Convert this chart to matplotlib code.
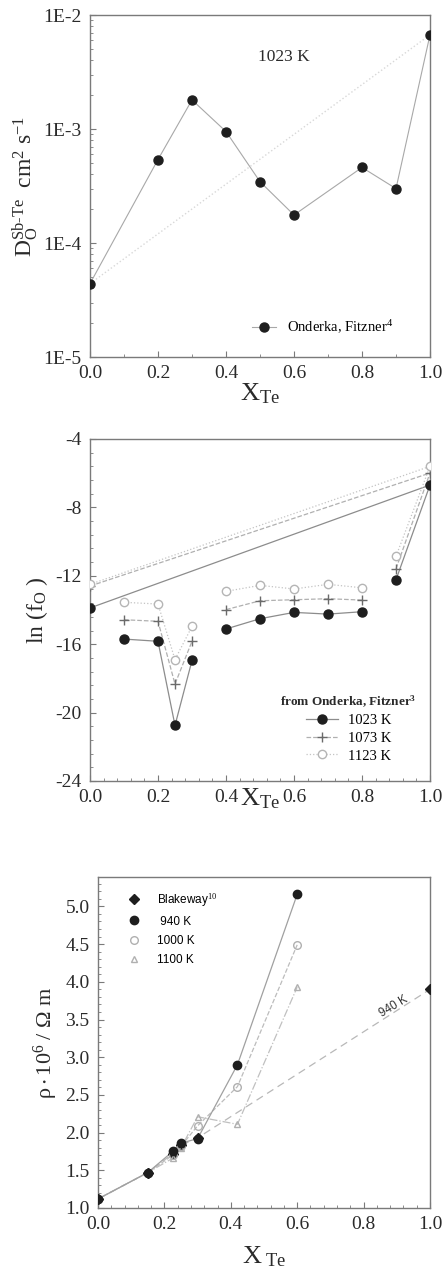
import matplotlib
matplotlib.use("Agg")
import matplotlib.pyplot as plt
from matplotlib.ticker import FixedLocator, MultipleLocator, LogLocator, NullFormatter, FixedFormatter
from matplotlib.lines import Line2D

plt.rcParams['font.family'] = ['Liberation Serif', 'DejaVu Serif']
plt.rcParams['mathtext.fontset'] = 'custom'
plt.rcParams['mathtext.rm'] = 'Liberation Serif'
plt.rcParams['mathtext.it'] = 'Liberation Serif:italic'
plt.rcParams['mathtext.bf'] = 'Liberation Serif:bold'
plt.rcParams['axes.unicode_minus'] = False

# datos panel 1: coeficiente de difusion, 1023 K
x_dif = [0.0, 0.2, 0.3, 0.4, 0.5, 0.6, 0.8, 0.9, 1.0]
d_dif = [4.4e-5, 5.4e-4, 1.8e-3, 9.5e-4, 3.45e-4, 1.76e-4, 4.6e-4, 3.0e-4, 6.7e-3]

# datos panel 2: ln(fO)
x_f = [0.0, 0.1, 0.2, 0.25, 0.3, 0.4, 0.5, 0.6, 0.7, 0.8, 0.9, 1.0]
f_1023 = [-13.88, -15.70, -15.83, -20.75, -16.95, -15.11, -14.51, -14.14, -14.24, -14.10, -12.23, -6.69]
f_1073 = [-12.60, -14.57, -14.66, -18.33, -15.83, -13.98, -13.46, -13.40, -13.34, -13.42, -11.59, -5.99]
f_1123 = [-12.50, -13.55, -13.65, -16.90, -14.96, -12.91, -12.56, -12.77, -12.50, -12.70, -10.86, -5.60]
# tramos unidos con linea
tramos = [(1, 5), (5, 10), (10, 12)]

# datos panel 3: resistividad
x_rho = [0.0, 0.15, 0.225, 0.25, 0.30, 0.42, 0.60]
rho_940 = [1.12, 1.47, 1.75, 1.86, 1.92, 2.90, 5.16]
rho_1000 = [1.12, 1.47, 1.70, 1.82, 2.09, 2.61, 4.49]
rho_1100 = [1.12, 1.47, 1.66, 1.80, 2.21, 2.11, 3.93]
x_blake = [0.0, 0.15, 0.225, 0.25, 0.30, 1.0]
rho_blake = [1.12, 1.47, 1.72, 1.83, 1.93, 3.90]

negro = '#1e1e1e'
gris = '#a8a8a8'
marco = '#7a7a7a'

fig = plt.figure(figsize=(4.45, 12.74), dpi=100)


def estilo(ax):
    for s in ax.spines.values():
        s.set_color(marco)
        s.set_linewidth(1.0)
    ax.tick_params(which='both', direction='in', colors=marco, labelcolor='#2a2a2a',
                   labelsize=14, pad=6)
    ax.tick_params(which='major', length=4)
    ax.tick_params(which='minor', length=2)


# ---------------- panel 1 ----------------
ax1 = fig.add_axes([90/445, 1-357/1274, 340/445, 342/1274])
ax1.plot(x_dif, d_dif, '-', color=gris, lw=0.8)
ax1.plot([x_dif[0], x_dif[-1]], [d_dif[0], d_dif[-1]], ':', color='#d8d8d8', lw=1.0)
ax1.plot(x_dif, d_dif, 'o', color=negro, ms=6.5, zorder=3)
ax1.set_yscale('log')
ax1.set_xlim(0, 1)
ax1.set_ylim(1e-5, 1e-2)
ax1.yaxis.set_major_locator(FixedLocator([1e-5, 1e-4, 1e-3, 1e-2]))
ax1.yaxis.set_major_formatter(FixedFormatter(['1E-5', '1E-4', '1E-3', '1E-2']))
ax1.yaxis.set_minor_locator(LogLocator(base=10, subs=range(2, 10)))
ax1.yaxis.set_minor_formatter(NullFormatter())
ax1.xaxis.set_major_locator(MultipleLocator(0.2))
ax1.xaxis.set_minor_locator(MultipleLocator(0.1))
ax1.xaxis.set_major_formatter(plt.FuncFormatter(lambda v, p: f'{v:.1f}'))
estilo(ax1)
ax1.text(0.57, 10**-2.37, '1023 K', fontsize=12.5, ha='center', va='center', color='#2a2a2a')
ax1.set_xlabel(r'$\mathregular{X_{Te}}$', fontsize=19, labelpad=-1, color='#2a2a2a')
ax1.set_ylabel(r'$\mathregular{D_{O}^{Sb\text{-}Te}\ \ cm^{2}\ s^{-1}}$', fontsize=17, labelpad=2, color='#2a2a2a')
h1 = Line2D([], [], color=gris, lw=0.8, marker='o', ms=6.5, mfc=negro, mec=negro)
ax1.legend([h1], ['Onderka, Fitzner$^{\\mathregular{4}}$'], loc='center',
           bbox_to_anchor=(0.685, 0.088), frameon=False, fontsize=10.5, handlelength=1.6,
           handletextpad=0.8)

# ---------------- panel 2 ----------------
ax2 = fig.add_axes([90/445, 1-781/1274, 340/445, 342/1274])
series = [(f_1023, '-', 'o', negro, negro, 6.5, '#8c8c8c'),
          (f_1073, '--', '+', '#6a6a6a', '#6a6a6a', 7, '#b0b0b0'),
          (f_1123, ':', 'o', 'white', '#b5b5b5', 6, '#c4c4c4')]
for ys, ls, mk, mfc, mec, ms, lc in series:
    ax2.plot([x_f[0], x_f[-1]], [ys[0], ys[-1]], ls, color=lc, lw=0.9)
    for a, b in tramos:
        ax2.plot(x_f[a:b], ys[a:b], ls, color=lc, lw=0.9)
    ax2.plot(x_f, ys, mk, mfc=mfc, mec=mec, color=mec, ms=ms, mew=1.0, zorder=3)
ax2.set_xlim(0, 1)
ax2.set_ylim(-24, -4)
ax2.yaxis.set_major_locator(MultipleLocator(4))
ax2.yaxis.set_minor_locator(MultipleLocator(0.8))
ax2.xaxis.set_major_locator(MultipleLocator(0.2))
ax2.xaxis.set_minor_locator(MultipleLocator(0.04))
ax2.xaxis.set_major_formatter(plt.FuncFormatter(lambda v, p: f'{v:.1f}'))
estilo(ax2)
ax2.set_xlabel(r'$\mathregular{X_{Te}}$', fontsize=19, labelpad=-14, color='#2a2a2a')
ax2.set_ylabel(r'ln (f$_\mathregular{O}$ )', fontsize=17, labelpad=4, color='#2a2a2a')
hs = [Line2D([], [], color=lc, ls=ls, lw=0.9, marker=mk, mfc=mfc, mec=mec, ms=ms)
      for ys, ls, mk, mfc, mec, ms, lc in series]
leg2 = ax2.legend(hs, ['1023 K', '1073 K', '1123 K'], loc='center',
                  bbox_to_anchor=(0.76, 0.155), frameon=False, fontsize=10.5,
                  handlelength=2.2, labelspacing=0.3, handletextpad=0.7,
                  title='from Onderka, Fitzner$^{\\mathregular{3}}$', title_fontsize=9.5)
leg2.get_title().set_fontweight('bold')
leg2.get_title().set_color('#2a2a2a')

# ---------------- panel 3 ----------------
ax3 = fig.add_axes([98/445, 1-1208/1274, 332/445, 331/1274])
ax3.plot(x_blake, rho_blake, '--', color='#b8b8b8', lw=0.9, dashes=(6, 4))
ax3.plot(x_rho, rho_1100, '-.', color='#c0c0c0', lw=0.9)
ax3.plot(x_rho, rho_1000, '--', color='#bcbcbc', lw=0.9)
ax3.plot(x_rho, rho_940, '-', color='#a0a0a0', lw=0.9)
ax3.plot(x_blake, rho_blake, 'D', color=negro, ms=5, zorder=3)
ax3.plot(x_rho, rho_1100, '^', mfc='none', mec='#b0b0b0', ms=5, zorder=3)
ax3.plot(x_rho, rho_1000, 'o', mfc='none', mec='#b0b0b0', ms=5.5, zorder=3)
ax3.plot(x_rho, rho_940, 'o', color=negro, ms=6, zorder=4)
ax3.set_xlim(0, 1)
ax3.set_ylim(1.0, 5.39)
ax3.yaxis.set_major_locator(MultipleLocator(0.5))
ax3.yaxis.set_minor_locator(MultipleLocator(0.1))
ax3.xaxis.set_major_locator(MultipleLocator(0.2))
ax3.xaxis.set_minor_locator(MultipleLocator(0.04))
ax3.xaxis.set_major_formatter(plt.FuncFormatter(lambda v, p: f'{v:.1f}'))
estilo(ax3)
ax3.text(0.89, 3.67, '940 K', fontsize=8.5, rotation=31, ha='center', va='center',
         family=['Liberation Sans', 'DejaVu Sans'], color='#333333')
ax3.set_xlabel(r'$\mathregular{X_{\ Te}}$', fontsize=19, labelpad=8, color='#2a2a2a')
ax3.set_ylabel(r'$\mathregular{\rho\cdot10^{6}\ /\ \Omega\ m}$', fontsize=16, labelpad=4, color='#2a2a2a')
hs3 = [Line2D([], [], ls='none', marker='D', color=negro, ms=5),
       Line2D([], [], ls='none', marker='o', color=negro, ms=6),
       Line2D([], [], ls='none', marker='o', mfc='none', mec='#b0b0b0', ms=5.5),
       Line2D([], [], ls='none', marker='^', mfc='none', mec='#b0b0b0', ms=5)]
leg3 = ax3.legend(hs3, ['Blakeway$^{10}$', ' 940 K', '1000 K', '1100 K'], loc='upper left',
                  bbox_to_anchor=(0.06, 0.99), frameon=False, fontsize=8.5,
                  handlelength=1.0, labelspacing=0.6, handletextpad=1.4,
                  prop={'family': ['Liberation Sans', 'DejaVu Sans'], 'size': 8.5})

fig.savefig('out.png', dpi=100)
